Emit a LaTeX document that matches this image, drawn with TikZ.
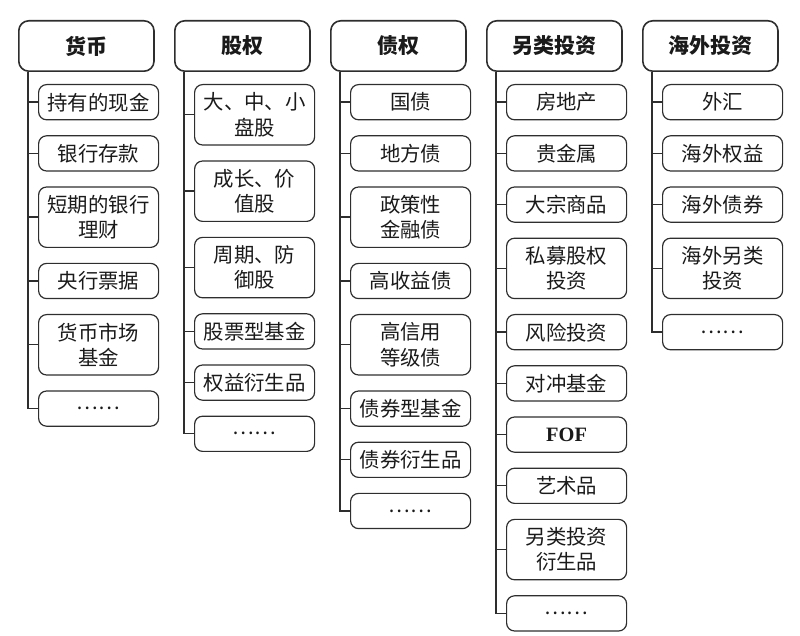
\documentclass[tikz,border=0pt]{standalone}
\usepackage{fontspec}
\setmainfont{Noto Sans CJK SC}
\newfontfamily\latinfont{Liberation Serif}
\usepackage{xcolor}
\usetikzlibrary{positioning}
\definecolor{linegray}{HTML}{2E2E2E}
\definecolor{textgray}{HTML}{1A1A1A}

\begin{document}
\begin{tikzpicture}[
    node distance=7.4pt and 9.6pt,
    head/.style={rectangle, draw=linegray, line width=0.8pt, rounded corners=5pt, text=textgray, inner ysep=0pt, minimum width=67.6pt, minimum height=25.2pt, font=\fontsize{10.5pt}{12.5pt}\selectfont\bfseries},
    item/.style={rectangle, draw=linegray, line width=0.6pt, rounded corners=4pt, text=textgray, align=center, inner xsep=1pt, inner ysep=0pt, minimum width=60pt, minimum height=17.6pt, font=\fontsize{10.2pt}{12.6pt}\selectfont},
    item2/.style={item, minimum height=30.2pt},
    tree/.style={draw=linegray, line width=0.7pt}
]
    \useasboundingbox (0,0) rectangle (400pt,-318pt);

    % Headers
    \node[head, anchor=north west] (money) at (9pt,-10pt) {货币};
    \node[head, right=of money] (equity) {股权};
    \node[head, right=of equity] (bond) {债权};
    \node[head, right=of bond] (alt) {另类投资};
    \node[head, right=of alt] (overseas) {海外投资};

    % Money
    \node[item, anchor=north west] (money1) at ([xshift=10pt, yshift=-6pt]money.south west) {持有的现金};
    \node[item, below=of money1] (money2) {银行存款};
    \node[item2, below=of money2] (money3) {短期的银行\\理财};
    \node[item, below=of money3] (money4) {央行票据};
    \node[item2, below=of money4] (money5) {货币市场\\基金};
    \node[item, below=of money5] (money6) {……};

    % Equity
    \node[item2, anchor=north west] (equity1) at ([xshift=10pt, yshift=-6pt]equity.south west) {大、中、小\\盘股};
    \node[item2, below=of equity1] (equity2) {成长、价\\值股};
    \node[item2, below=of equity2] (equity3) {周期、防\\御股};
    \node[item, below=of equity3] (equity4) {股票型基金};
    \node[item, below=of equity4] (equity5) {权益衍生品};
    \node[item, below=of equity5] (equity6) {……};

    % Bond
    \node[item, anchor=north west] (bond1) at ([xshift=10pt, yshift=-6pt]bond.south west) {国债};
    \node[item, below=of bond1] (bond2) {地方债};
    \node[item2, below=of bond2] (bond3) {政策性\\金融债};
    \node[item, below=of bond3] (bond4) {高收益债};
    \node[item2, below=of bond4] (bond5) {高信用\\等级债};
    \node[item, below=of bond5] (bond6) {债券型基金};
    \node[item, below=of bond6] (bond7) {债券衍生品};
    \node[item, below=of bond7] (bond8) {……};

    % Alternative
    \node[item, anchor=north west] (alt1) at ([xshift=10pt, yshift=-6pt]alt.south west) {房地产};
    \node[item, below=of alt1] (alt2) {贵金属};
    \node[item, below=of alt2] (alt3) {大宗商品};
    \node[item2, below=of alt3] (alt4) {私募股权\\投资};
    \node[item, below=of alt4] (alt5) {风险投资};
    \node[item, below=of alt5] (alt6) {对冲基金};
    \node[item, below=of alt6] (alt7) {{\latinfont\bfseries FOF}};
    \node[item, below=of alt7] (alt8) {艺术品};
    \node[item2, below=of alt8] (alt9) {另类投资\\衍生品};
    \node[item, below=of alt9] (alt10) {……};

    % Overseas
    \node[item, anchor=north west] (overseas1) at ([xshift=10pt, yshift=-6pt]overseas.south west) {外汇};
    \node[item, below=of overseas1] (overseas2) {海外权益};
    \node[item, below=of overseas2] (overseas3) {海外债券};
    \node[item2, below=of overseas3] (overseas4) {海外另类\\投资};
    \node[item, below=of overseas4] (overseas5) {……};

    % Tree lines
    \coordinate (moneyroot) at ([xshift=5pt]money.south west);
    \coordinate (equityroot) at ([xshift=5pt]equity.south west);
    \coordinate (bondroot) at ([xshift=5pt]bond.south west);
    \coordinate (altroot) at ([xshift=5pt]alt.south west);
    \coordinate (overseasroot) at ([xshift=5pt]overseas.south west);

    \draw[tree] (moneyroot) |- (money1) (moneyroot) |- (money2) (moneyroot) |- (money3)
        (moneyroot) |- (money4) (moneyroot) |- (money5) (moneyroot) |- (money6);
    \draw[tree] (equityroot) |- (equity1) (equityroot) |- (equity2) (equityroot) |- (equity3)
        (equityroot) |- (equity4) (equityroot) |- (equity5) (equityroot) |- (equity6);
    \draw[tree] (bondroot) |- (bond1) (bondroot) |- (bond2) (bondroot) |- (bond3) (bondroot) |- (bond4)
        (bondroot) |- (bond5) (bondroot) |- (bond6) (bondroot) |- (bond7) (bondroot) |- (bond8);
    \draw[tree] (altroot) |- (alt1) (altroot) |- (alt2) (altroot) |- (alt3) (altroot) |- (alt4)
        (altroot) |- (alt5) (altroot) |- (alt6) (altroot) |- (alt7) (altroot) |- (alt8)
        (altroot) |- (alt9) (altroot) |- (alt10);
    \draw[tree] (overseasroot) |- (overseas1) (overseasroot) |- (overseas2) (overseasroot) |- (overseas3)
        (overseasroot) |- (overseas4) (overseasroot) |- (overseas5);
\end{tikzpicture}
\end{document}
